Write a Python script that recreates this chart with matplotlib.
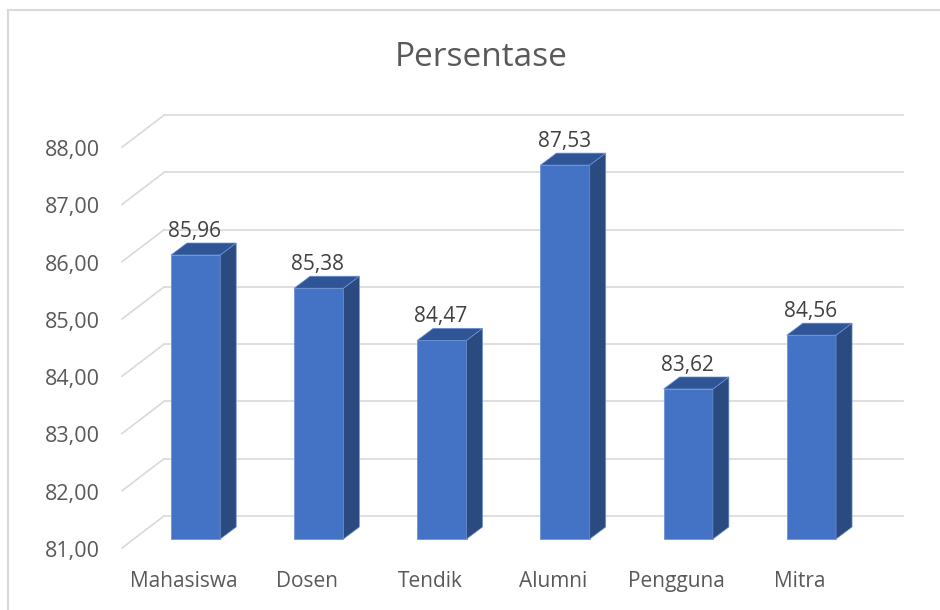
import matplotlib
matplotlib.use('Agg')
import matplotlib.pyplot as plt
from matplotlib.patches import Polygon, Rectangle
from matplotlib.lines import Line2D

plt.rcParams['font.family'] = ['Open Sans', 'DejaVu Sans']

categories = ['Mahasiswa', 'Dosen', 'Tendik', 'Alumni', 'Pengguna', 'Mitra']
values = [85.96, 85.38, 84.47, 87.53, 83.62, 84.56]
yticks = [81, 82, 83, 84, 85, 86, 87, 88]
title = 'Persentase'


def fmt(v):
    return f"{v:.2f}".replace('.', ',')


W, H = 940, 610
fig = plt.figure(figsize=(W / 100, H / 100), dpi=100)
fig.patch.set_facecolor('white')

# chart-area border (left and top visible)
border_c = '#d9d9d9'
fig.add_artist(Line2D([8 / W, 8 / W], [0, 1 - 10 / H], transform=fig.transFigure,
                      color=border_c, lw=1.5))
fig.add_artist(Line2D([8 / W, 1], [1 - 10 / H, 1 - 10 / H], transform=fig.transFigure,
                      color=border_c, lw=1.5))

# axes = plane of the bar fronts
left_px, right_px = 134.0, 873.0
bot_px, top_px = 539.0, 138.2
ax = fig.add_axes([left_px / W, (H - bot_px) / H, (right_px - left_px) / W, (bot_px - top_px) / H])
ymin, ymax = yticks[0], yticks[-1]
n = len(categories)
ax.set_xlim(-0.5, n - 0.5)
ax.set_ylim(ymin, ymax)
ax.axis('off')

kx = n / (right_px - left_px)        # data units per pixel (x)
ky = (ymax - ymin) / (bot_px - top_px)  # data units per pixel (y)

# plane offsets (pixels, y up)
front_dx, front_dy = -12, -9
back_dx, back_dy = 30, 23
bar_dx, bar_dy = 16, 12

grid_c = '#d9d9d9'
x0, x1 = -0.5, n - 0.5
for v in yticks:
    fx, fy = x0 + front_dx * kx, v + front_dy * ky
    bx, by = x0 + back_dx * kx, v + back_dy * ky
    ax.plot([fx, bx], [fy, by], color=grid_c, lw=1.2, clip_on=False, zorder=1)
    ax.plot([bx, x1 + back_dx * kx], [by, by], color=grid_c, lw=1.2, clip_on=False, zorder=1)
    ax.text(fx - 22 * kx, fy - 9 * ky, fmt(v), ha='right', va='baseline', fontsize=15.5,
            color='#595959')

front_c = '#4472c4'
side_c = '#2b4a80'
top_c = '#2f5597'
edge_c = '#6f93d6'
bw = 0.4
for i, v in enumerate(values):
    ax.add_patch(Rectangle((i - bw / 2, ymin), bw, v - ymin, facecolor=front_c,
                           edgecolor=edge_c, lw=0.6, zorder=3, clip_on=False))
    side = [(i + bw / 2, ymin), (i + bw / 2, v),
            (i + bw / 2 + bar_dx * kx, v + bar_dy * ky),
            (i + bw / 2 + bar_dx * kx, ymin + bar_dy * ky)]
    ax.add_patch(Polygon(side, closed=True, facecolor=side_c, edgecolor=edge_c,
                         lw=0.5, zorder=3, clip_on=False))
    top = [(i - bw / 2, v), (i + bw / 2, v),
           (i + bw / 2 + bar_dx * kx, v + bar_dy * ky),
           (i - bw / 2 + bar_dx * kx, v + bar_dy * ky)]
    ax.add_patch(Polygon(top, closed=True, facecolor=top_c, edgecolor=edge_c,
                         lw=0.5, zorder=3, clip_on=False))
    ax.text(i - 1 * kx, v + 18 * ky, fmt(v), ha='center', va='baseline', fontsize=15,
            color='#404040', zorder=4)
    ax.text(i + front_dx * kx, ymin + front_dy * ky - 39 * ky, categories[i],
            ha='center', va='baseline', fontsize=15, color='#595959')

fig.text(481.5 / W, 1 - 66.5 / H, title, ha='center', va='baseline', fontsize=24,
         color='#595959')

fig.savefig('out.png', dpi=100, facecolor='white')
